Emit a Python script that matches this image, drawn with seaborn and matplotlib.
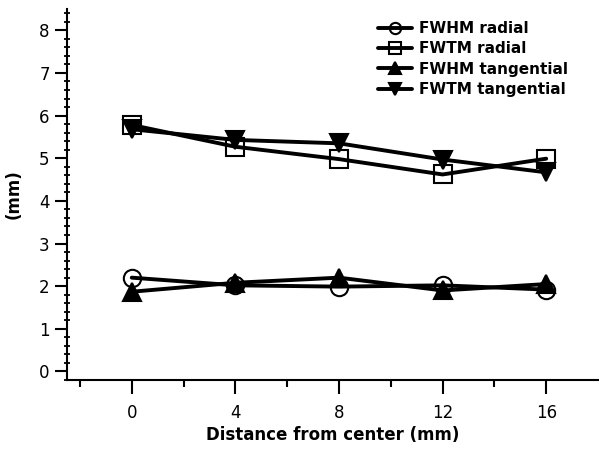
import matplotlib
matplotlib.use("Agg")
import matplotlib.pyplot as plt
from matplotlib.ticker import MultipleLocator, FixedLocator
import seaborn as sns
import pandas as pd

# Distance of the source from the center of the field of view (mm)
distance = [0, 4, 8, 12, 16]

# Spatial resolution measurements (mm)
fwhm_radial = [2.20, 2.02, 1.99, 2.02, 1.92]
fwtm_radial = [5.78, 5.27, 4.98, 4.62, 4.99]
fwhm_tangential = [1.87, 2.08, 2.20, 1.90, 2.05]
fwtm_tangential = [5.68, 5.43, 5.35, 4.97, 4.67]

series_names = ["FWHM radial", "FWTM radial", "FWHM tangential", "FWTM tangential"]
series_values = [fwhm_radial, fwtm_radial, fwhm_tangential, fwtm_tangential]
series_markers = ["o", "s", "^", "v"]
series_faces = ["none", "none", "black", "black"]

x_ticks = [0, 4, 8, 12, 16]
y_ticks = [0, 1, 2, 3, 4, 5, 6, 7, 8]

sns.set_theme(style="ticks")
plt.rcParams["font.family"] = ["DejaVu Sans"]
plt.rcParams["text.color"] = "black"

fig = plt.figure(figsize=(5.99, 4.49), dpi=100)
ax = fig.add_axes([67 / 599, 1 - 380 / 449, 531 / 599, 371 / 449])

for name, vals, mk, face in zip(series_names, series_values, series_markers, series_faces):
    df = pd.DataFrame({"distance": distance, "value": vals})
    sns.lineplot(data=df, x="distance", y="value", ax=ax, color="black",
                 linewidth=2.8, marker=mk, markersize=12.5,
                 markerfacecolor=face, markeredgecolor="black",
                 markeredgewidth=1.5, label=name)

ax.set_xlim(-2.5, 18)
ax.set_ylim(-0.2, 8.5)
ax.xaxis.set_major_locator(FixedLocator(x_ticks))
ax.xaxis.set_minor_locator(FixedLocator([-2, 2, 6, 10, 14]))
ax.yaxis.set_major_locator(FixedLocator(y_ticks))
ax.yaxis.set_minor_locator(MultipleLocator(0.2))

ax.tick_params(axis="x", which="major", direction="out", length=10, width=1.5,
               pad=7, labelsize=12, color="black", labelcolor="black")
ax.tick_params(axis="x", which="minor", direction="out", length=5, width=1.5,
               color="black")
ax.tick_params(axis="y", which="major", direction="out", length=8.5, width=1.5,
               pad=4, labelsize=12, color="black", labelcolor="black")
ax.tick_params(axis="y", which="minor", direction="inout", length=5, width=1.3,
               color="black")

for side in ["left", "bottom"]:
    ax.spines[side].set_linewidth(1.5)
    ax.spines[side].set_color("black")
for side in ["top", "right"]:
    ax.spines[side].set_visible(False)

ax.set_xlabel("Distance from center (mm)", fontsize=12, fontweight="bold",
              labelpad=3, color="black")
ax.set_ylabel("(mm)", fontsize=12, fontweight="bold", labelpad=12, color="black")

leg = ax.legend(loc="upper left", bbox_to_anchor=(378 / 599, 1 - 21 / 449),
                bbox_transform=fig.transFigure, frameon=False,
                prop={"size": 11, "weight": "bold"}, handlelength=2.2,
                handletextpad=0.5, labelspacing=0.35, markerscale=0.65,
                borderaxespad=0, borderpad=0)
for txt in leg.get_texts():
    txt.set_color("black")

fig.savefig("out.png", dpi=100)
